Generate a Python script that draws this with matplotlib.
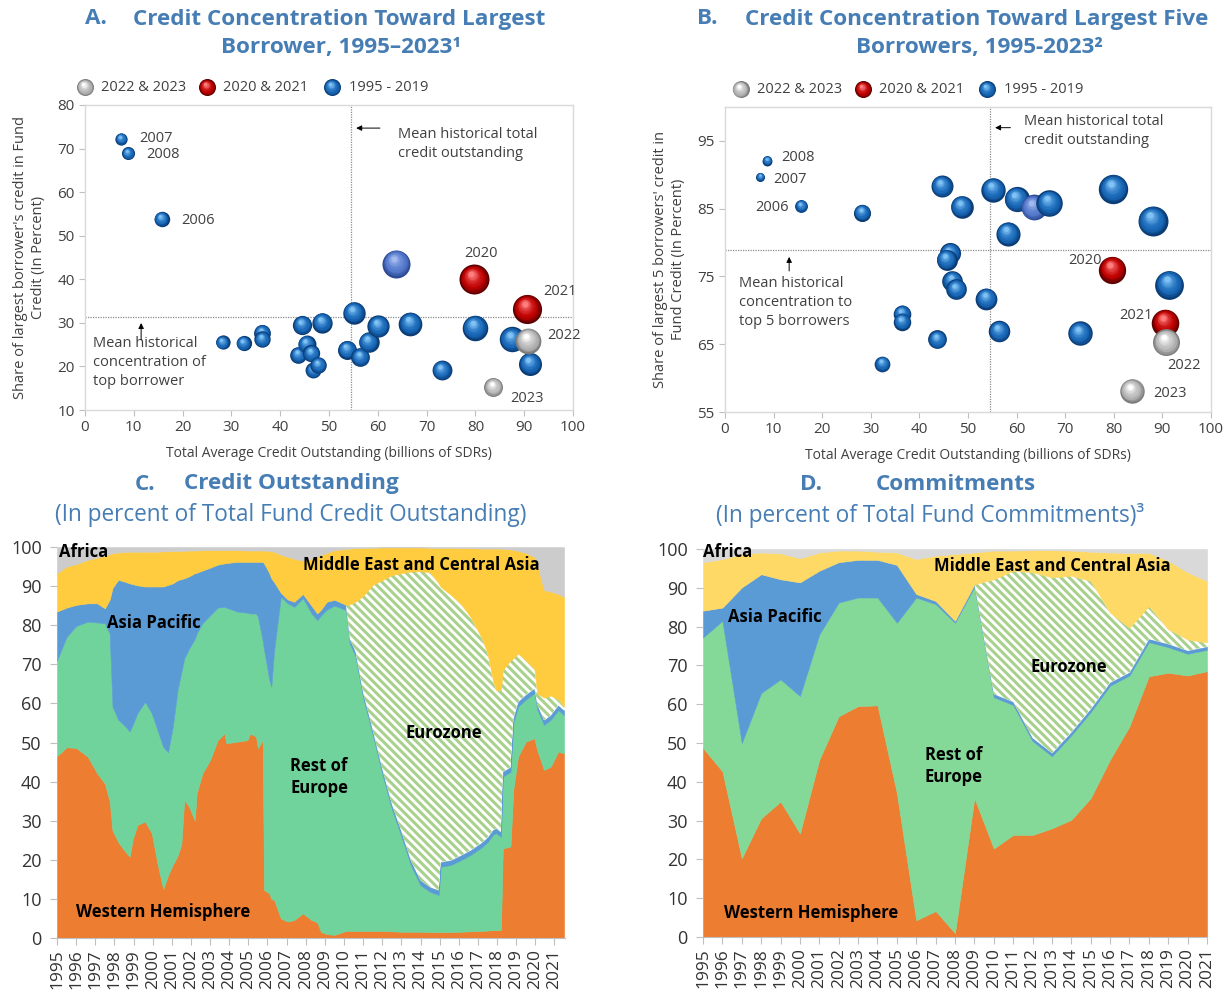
import numpy as np
import matplotlib
matplotlib.use("Agg")
import matplotlib.pyplot as plt
from matplotlib import transforms
from matplotlib.colors import to_rgb

plt.rcParams['font.family'] = ['Open Sans', 'DejaVu Sans']
plt.rcParams['hatch.linewidth'] = 2.2
plt.rcParams['hatch.color'] = '#a9d18e'

W, H = 1231, 993

# ---------------- Panel A data (x: total avg credit, y: share of largest borrower) ----------------
a_blue_x = [7.4, 8.8, 15.7, 28.2, 32.5, 36.3, 36.3, 43.7, 44.5, 45.4, 46.4, 46.8, 47.8, 48.6,
            53.7, 55.1, 56.4, 58.1, 60.1, 63.8, 66.7, 73.1, 79.9, 87.5, 91.2]
a_blue_y = [72.2, 68.9, 53.8, 25.5, 25.3, 27.7, 26.2, 22.6, 29.5, 25.1, 23.0, 19.1, 20.3, 30.0,
            23.8, 32.3, 22.1, 25.6, 29.2, 43.6, 29.8, 19.1, 28.9, 26.2, 20.6]
a_red_x = [79.7, 90.6]
a_red_y = [40.0, 33.2]
a_gray_x = [90.8, 83.7]
a_gray_y = [25.9, 15.2]
a_mean_credit = 54.6
a_mean_conc = 31.3

# ---------------- Panel B data (share of largest 5 borrowers) ----------------
b_blue_x = [8.7, 7.3, 15.7, 28.2, 44.6, 48.7, 55.2, 60.0, 63.5, 66.7, 58.2, 79.9, 88.0,
            46.3, 45.6, 46.8, 47.6, 53.8, 36.4, 36.4, 43.7, 32.4, 56.4, 73.0, 91.4]
b_blue_y = [92.1, 89.7, 85.4, 84.4, 88.3, 85.3, 87.8, 86.4, 85.2, 85.8, 81.3, 87.9, 83.2,
            78.4, 77.5, 74.3, 73.1, 71.7, 69.5, 68.3, 65.7, 62.1, 66.9, 66.6, 73.8]
b_red_x = [79.7, 90.6]
b_red_y = [76.0, 68.2]
b_gray_x = [90.8, 83.7]
b_gray_y = [65.3, 58.1]
b_mean_credit = 54.6
b_mean_conc = 78.9

# ---------------- Panel C data (cumulative boundaries, % of credit outstanding) ----------------
c_x = [1995.00, 1995.50, 1996.00, 1996.60, 1997.10, 1997.50, 1997.75, 1997.90, 1998.20, 1998.50,
       1998.80, 1998.95, 1999.20, 1999.60, 1999.95, 2000.25, 2000.55, 2000.80, 2001.05, 2001.30,
       2001.50, 2001.65, 2001.90, 2002.20, 2002.30, 2002.60, 2003.00, 2003.40, 2003.75, 2003.85,
       2004.40, 2004.95, 2005.10, 2005.40, 2005.50, 2005.75, 2005.82, 2006.10, 2006.20, 2006.35,
       2006.70, 2007.05, 2007.40, 2007.85, 2008.30, 2008.60, 2008.80, 2009.10, 2009.50, 2010.10,
       2010.30, 2010.60, 2011.00, 2011.50, 2012.00, 2012.50, 2013.00, 2013.50, 2014.00, 2014.50,
       2014.95, 2015.05, 2015.60, 2016.10, 2016.60, 2017.20, 2017.50, 2017.80, 2017.95, 2018.20,
       2018.30, 2018.70, 2018.85, 2019.10, 2019.50, 2019.95, 2020.10, 2020.45, 2020.80, 2021.20,
       2021.50]
# top of Western Hemisphere
c_top_wh = [46.5, 48.8, 48.6, 46.4, 42.1, 39.5, 35.0, 27.5, 24.5, 22.5,
            20.8, 25.1, 28.9, 29.8, 26.8, 19.1, 12.5, 16.0, 18.7, 21.0,
            24.0, 35.3, 33.6, 30.0, 37.0, 42.1, 45.5, 50.6, 52.3, 49.8,
            50.2, 50.6, 52.3, 51.5, 48.5, 50.6, 12.3, 11.4, 10.0, 9.7,
            5.0, 4.2, 4.6, 6.3, 4.6, 4.0, 1.5, 1.0, 0.8, 1.8,
            1.8, 1.8, 1.8, 1.8, 1.8, 1.7, 1.6, 1.6, 1.6, 1.5,
            1.5, 1.5, 1.5, 1.6, 1.7, 1.8, 1.9, 2.0, 2.0, 2.0,
            22.9, 23.4, 38.0, 46.4, 50.2, 51.1, 48.0, 43.0, 43.8, 47.7,
            47.2]
# top of Rest of Europe
c_top_roe = [71.0, 77.0, 79.8, 80.9, 80.7, 80.5, 77.9, 59.2, 55.8, 54.5,
             52.8, 54.5, 57.5, 60.4, 57.5, 53.2, 48.9, 47.5, 54.0, 63.4,
             68.0, 71.5, 74.0, 76.5, 77.9, 80.5, 82.5, 84.5, 84.7, 84.5,
             83.5, 83.2, 83.0, 83.0, 82.2, 76.0, 73.7, 66.0, 64.3, 73.7,
             87.3, 85.6, 84.7, 86.9, 83.0, 81.3, 82.5, 84.0, 85.0, 83.9,
             75.4, 72.0, 61.5, 52.0, 42.0, 33.0, 26.0, 18.5, 13.5, 11.8,
             11.0, 18.2, 18.7, 19.9, 21.2, 23.2, 24.5, 26.5, 26.8, 25.9,
             41.3, 42.5, 55.0, 59.2, 61.0, 62.6, 58.5, 54.5, 55.8, 58.3,
             57.0]
# top of Asia Pacific
c_top_ap = [83.5, 84.5, 85.2, 85.6, 85.6, 84.3, 86.5, 89.5, 91.6, 91.2,
            90.7, 90.5, 90.2, 89.9, 89.9, 89.9, 89.9, 90.3, 90.7, 91.5,
            91.8, 92.0, 92.5, 93.3, 93.4, 94.0, 94.7, 95.5, 95.8, 95.9,
            96.2, 96.2, 96.2, 96.2, 96.2, 96.2, 95.8, 93.3, 92.0, 91.0,
            88.3, 86.6, 86.0, 88.0, 85.0, 83.0, 84.0, 86.0, 86.5, 85.2,
            76.5, 73.2, 62.7, 53.2, 43.2, 34.2, 27.2, 19.7, 14.7, 13.0,
            12.2, 19.4, 19.9, 21.1, 22.4, 24.4, 25.7, 27.7, 28.0, 27.1,
            42.5, 43.7, 56.2, 60.4, 62.2, 63.8, 59.7, 55.7, 57.0, 59.5,
            58.2]
# top of Eurozone
c_top_ez = [83.5, 84.5, 85.2, 85.6, 85.6, 84.3, 86.5, 89.5, 91.6, 91.2,
            90.7, 90.5, 90.2, 89.9, 89.9, 89.9, 89.9, 90.3, 90.7, 91.5,
            91.8, 92.0, 92.5, 93.3, 93.4, 94.0, 94.7, 95.5, 95.8, 95.9,
            96.2, 96.2, 96.2, 96.2, 96.2, 96.2, 95.8, 93.3, 92.0, 91.0,
            88.3, 86.6, 86.0, 88.0, 85.0, 83.0, 84.0, 86.0, 86.5, 85.2,
            85.3, 86.0, 87.5, 90.3, 91.5, 92.8, 93.3, 93.7, 93.8, 93.5,
            90.7, 89.8, 87.7, 85.5, 82.2, 76.7, 72.8, 65.5, 63.4, 63.4,
            68.5, 71.0, 71.5, 72.8, 71.0, 68.8, 62.5, 61.5, 62.0, 61.0,
            59.2]
# top of Middle East and Central Asia
c_top_meca = [93.3, 95.0, 95.6, 96.7, 97.3, 97.8, 98.2, 98.4, 98.6, 98.7,
              98.8, 98.8, 98.8, 98.8, 98.8, 98.8, 98.9, 98.9, 99.0, 99.0,
              99.0, 99.0, 99.1, 99.1, 99.1, 99.2, 99.2, 99.2, 99.2, 99.2,
              99.2, 99.1, 99.1, 99.1, 99.1, 99.1, 99.1, 99.0, 98.9, 98.8,
              98.0, 97.5, 97.0, 96.5, 97.0, 97.5, 98.0, 98.5, 99.2, 99.5,
              99.6, 99.7, 99.8, 99.8, 99.9, 99.9, 99.9, 99.9, 99.9, 99.8,
              99.8, 99.8, 99.8, 99.7, 99.7, 99.6, 99.6, 99.6, 99.6, 99.6,
              99.5, 99.4, 99.3, 99.0, 98.5, 97.5, 95.5, 89.0, 88.6, 88.0,
              87.3]

# ---------------- Panel D data (cumulative boundaries, % of commitments) ----------------
d_years = list(range(1995, 2022))
d_top_wh = [48.7, 42.7, 20.3, 30.6, 34.9, 26.7, 45.7, 56.9, 59.5, 59.7, 37.1, 4.3, 6.7, 1.0,
            35.8, 22.8, 26.3, 26.3, 28.0, 30.2, 35.8, 45.7, 54.3, 67.2, 68.1, 67.4, 68.5]
d_top_roe = [77.2, 81.5, 50.0, 62.9, 66.4, 62.1, 78.0, 86.2, 87.5, 87.5, 81.0, 87.5, 85.8, 81.0,
             90.2, 61.8, 59.8, 50.5, 46.6, 52.0, 58.0, 64.8, 67.4, 76.0, 74.7, 73.0, 74.0]
d_top_ap = [84.1, 84.9, 90.1, 93.5, 92.2, 91.4, 94.4, 96.6, 97.2, 97.2, 95.9, 88.4, 86.6, 81.5,
            90.9, 62.6, 60.6, 51.3, 47.4, 52.8, 58.8, 65.6, 68.2, 76.8, 75.5, 73.8, 74.8]
d_top_ez = [84.1, 84.9, 90.1, 93.5, 92.2, 91.4, 94.4, 96.6, 97.2, 97.2, 95.9, 88.4, 86.6, 81.5,
            90.9, 92.2, 94.4, 94.0, 92.7, 93.1, 91.8, 83.6, 79.7, 85.3, 79.3, 76.7, 75.9]
d_top_meca = [96.6, 97.4, 98.7, 99.1, 98.9, 97.6, 99.1, 99.6, 99.6, 99.3, 99.1, 97.4, 98.3, 98.7,
              99.1, 99.6, 99.6, 99.7, 99.7, 99.6, 99.3, 99.1, 99.0, 99.0, 97.0, 94.0, 91.8]

region_names = ['Western Hemisphere', 'Rest of\nEurope', 'Asia Pacific', 'Eurozone',
                'Middle East and Central Asia', 'Africa']
legend_labels = ['2022 & 2023', '2020 & 2021', '1995 - 2019']

# ---------------- styling ----------------
TITLE_C = '#467db4'
TXT = '#404040'
BLUE = ('#0b3c75', '#1868b8', '#7fc2f5')
BLUE_HL = ('#2d4a94', '#5479cc', '#a3b9ef')
RED = ('#5c0000', '#c00000', '#ff7d7d')
GRAY = ('#7d7d7d', '#b8b8b8', '#ffffff')
S_MAX = (30 * 0.72) ** 2

fig = plt.figure(figsize=(W / 100, H / 100), dpi=100)


def rect(l, t, r, b):
    return [l / W, 1 - b / H, (r - l) / W, (b - t) / H]


def sphere(ax, x, y, s, pal, z, transform=None, clip=True):
    dark, base, light = (np.array(to_rgb(c)) for c in pal)
    trans = transform if transform is not None else ax.transData
    r = np.sqrt(s) / 2.0
    n = 9
    for k in range(n):
        t = k / (n - 1)
        rf = 1 - 0.8 * t
        off = 0.36 * r * t
        if t < 0.3:
            c = dark + (base - dark) * (t / 0.3)
        else:
            c = base + (light - base) * ((t - 0.3) / 0.7) ** 1.6
        tr = transforms.offset_copy(trans, fig=ax.figure, x=-0.5 * off, y=off, units='points')
        ax.scatter([x], [y], s=s * rf ** 2, color=[tuple(np.clip(c, 0, 1))], transform=tr,
                   zorder=z + k * 1e-4, linewidths=0, clip_on=clip)


def bubble_panel(ax, bx, by, rx, ry, gx, gy, hl_idx, ylim, yticks, vline, hline, ylabel,
                 leg_mx, leg_tx):
    vals = [x * y for x, y in zip(bx + rx + gx, by + ry + gy)]
    vmax = max(vals)
    z = 3.0
    for i, (x, y) in enumerate(zip(bx, by)):
        sphere(ax, x, y, S_MAX * x * y / vmax, BLUE_HL if i == hl_idx else BLUE, z)
        z += 0.01
    for x, y in zip(rx, ry):
        sphere(ax, x, y, S_MAX * x * y / vmax, RED, z)
        z += 0.01
    for x, y in zip(gx, gy):
        sphere(ax, x, y, S_MAX * x * y / vmax, GRAY, z)
        z += 0.01
    ax.axvline(vline, color='#8c8c8c', lw=0.9, ls=(0, (1, 1)), zorder=1)
    ax.axhline(hline, color='#8c8c8c', lw=0.9, ls=(0, (1, 1)), zorder=1)
    ax.set_xlim(0, 100)
    ax.set_ylim(*ylim)
    ax.set_xticks(range(0, 101, 10))
    ax.set_yticks(yticks)
    for sp in ax.spines.values():
        sp.set_color('#d9d9d9')
        sp.set_linewidth(1.0)
    ax.tick_params(colors='#bfbfbf', labelcolor=TXT, labelsize=11, length=4, width=0.8)
    ax.set_xlabel('Total Average Credit Outstanding (billions of SDRs)', fontsize=10, color=TXT)
    ax.xaxis.set_label_coords(0.5, -0.118)
    ax.set_ylabel(ylabel, fontsize=10.5, color=TXT, linespacing=1.3)
    ax.yaxis.set_label_coords(-0.08, 0.5)
    pals = [GRAY, RED, BLUE]
    for mx, tx, pal, lab in zip(leg_mx, leg_tx, pals, legend_labels):
        sphere(ax, mx, 1.058, 150, pal, 10, transform=ax.transAxes, clip=False)
        ax.text(tx, 1.058, lab, transform=ax.transAxes, fontsize=10.5, color=TXT,
                va='center', ha='left')


# ---------------- Panel A ----------------
axA = fig.add_axes(rect(85, 105, 573, 410))
bubble_panel(axA, a_blue_x, a_blue_y, a_red_x, a_red_y, a_gray_x, a_gray_y, 19,
             (10, 80), range(10, 81, 10), a_mean_credit, a_mean_conc,
             "Share of largest borrower's credit in Fund\nCredit (In Percent)",
             [0.0, 0.25, 0.506], [0.033, 0.283, 0.54])
lab_kw = dict(fontsize=10.5, color=TXT, va='center')
axA.text(11.2, 72.2, '2007', **lab_kw)
axA.text(12.6, 68.7, '2008', **lab_kw)
axA.text(19.8, 53.6, '2006', **lab_kw)
axA.text(81.1, 46.0, '2020', ha='center', **lab_kw)
axA.text(93.9, 37.2, '2021', **lab_kw)
axA.text(94.7, 27.0, '2022', **lab_kw)
axA.text(87.2, 12.7, '2023', **lab_kw)
axA.text(64.1, 75.0, 'Mean historical total\ncredit outstanding', fontsize=10.5, color=TXT,
         va='top', ha='left', linespacing=1.35, transform=axA.transData)
axA.annotate('', xy=(55.0, 74.7), xytext=(61.0, 74.7),
             arrowprops=dict(arrowstyle='-|>', color='black', lw=0.7, mutation_scale=8))
axA.text(1.6, 27.0, 'Mean historical\nconcentration of\ntop borrower', fontsize=10.5,
         color=TXT, va='top', ha='left', linespacing=1.35)
axA.annotate('', xy=(11.5, 30.6), xytext=(11.5, 25.5),
             arrowprops=dict(arrowstyle='-|>', color='black', lw=0.7, mutation_scale=8))

# ---------------- Panel B ----------------
axB = fig.add_axes(rect(725, 107, 1211, 412))
bubble_panel(axB, b_blue_x, b_blue_y, b_red_x, b_red_y, b_gray_x, b_gray_y, 8,
             (55, 100), range(55, 96, 10), b_mean_credit, b_mean_conc,
             "Share of largest 5 borrowers' credit in\nFund Credit (In Percent)",
             [0.032, 0.284, 0.539], [0.066, 0.317, 0.574])
axB.text(11.6, 92.5, '2008', **lab_kw)
axB.text(9.9, 89.3, '2007', **lab_kw)
axB.text(13.2, 85.2, '2006', ha='right', **lab_kw)
axB.text(77.5, 77.4, '2020', ha='right', **lab_kw)
axB.text(88.1, 69.2, '2021', ha='right', **lab_kw)
axB.text(91.1, 61.9, '2022', **lab_kw)
axB.text(88.1, 57.75, '2023', **lab_kw)
axB.text(61.6, 99.0, 'Mean historical total\ncredit outstanding', fontsize=10.5, color=TXT,
         va='top', ha='left', linespacing=1.35)
axB.annotate('', xy=(55.0, 96.95), xytext=(59.3, 96.95),
             arrowprops=dict(arrowstyle='-|>', color='black', lw=0.7, mutation_scale=8))
axB.text(2.8, 75.0, 'Mean historical\nconcentration to\ntop 5 borrowers', fontsize=10.5,
         color=TXT, va='top', ha='left', linespacing=1.35)
axB.annotate('', xy=(13.2, 78.3), xytext=(13.2, 75.4),
             arrowprops=dict(arrowstyle='-|>', color='black', lw=0.7, mutation_scale=8))


# ---------------- area panels ----------------
def area_panel(ax, x, tops, colors, xlim, label_pos):
    tops = [np.asarray(t, float) for t in tops] + [np.full(len(x), 100.0)]
    shares = [tops[0]] + [tops[i] - tops[i - 1] for i in range(1, len(tops))]
    polys = ax.stackplot(x, *shares, colors=colors, linewidth=0)
    for i, p in enumerate(polys):
        if i == 3:
            p.set_facecolor('white')
            p.set_edgecolor('#a9d18e')
            p.set_hatch('\\\\\\\\')
            p.set_linewidth(0)
        else:
            p.set_edgecolor(colors[i])
            p.set_linewidth(0.4)
    ax.set_xlim(*xlim)
    ax.set_ylim(0, 100)
    ax.set_yticks(range(0, 101, 10))
    ax.set_xticks(range(1995, 2022))
    ax.set_xticklabels([str(y) for y in range(1995, 2022)], rotation=90)
    for s in ['top', 'right', 'left']:
        ax.spines[s].set_visible(False)
    ax.spines['bottom'].set_color('#bfbfbf')
    ax.tick_params(axis='both', colors='#bfbfbf', labelcolor='#333333', length=5, width=0.8)
    ax.tick_params(axis='y', labelsize=13, pad=6)
    ax.tick_params(axis='x', labelsize=12.5, pad=3)
    for name, (lx, ly) in zip(region_names, label_pos):
        ax.text(lx, ly, name, fontsize=12, fontweight='bold', color='black', ha='left',
                va='center', linespacing=1.3, zorder=10)


axC = fig.add_axes(rect(57, 547, 565, 938))
area_panel(axC, c_x, [c_top_wh, c_top_roe, c_top_ap, c_top_ez, c_top_meca],
           ['#ed7d31', '#70d39b', '#5b9bd5', 'white', '#ffcc40', '#cccccc'],
           (1995, 2021.55),
           [(1996.0, 6.6), (2007.2, 41.2), (1997.6, 80.6), (2013.2, 52.4), (2007.87, 95.4),
            (1995.1, 98.8)])

axD = fig.add_axes(rect(703, 549, 1207, 937))
area_panel(axD, d_years, [d_top_wh, d_top_roe, d_top_ap, d_top_ez, d_top_meca],
           ['#ed7d31', '#84d998', '#5b9bd5', 'white', '#ffd966', '#d9d9d9'],
           (1995, 2021),
           [(1996.1, 6.2), (2006.45, 44.0), (1996.3, 82.5), (2011.9, 69.6), (2006.9, 95.6),
            (1995.0, 99.3)])

# ---------------- titles ----------------
tkw = dict(color=TITLE_C, fontsize=16.2, fontweight='bold', va='center')
fig.text(85 / W, 1 - 19 / H, 'A.', ha='left', **tkw)
fig.text(133 / W, 1 - 19 / H, 'Credit Concentration Toward Largest', ha='left', **tkw)
fig.text(341 / W, 1 - 48 / H, 'Borrower, 1995\u20132023\u00b9', ha='center', **tkw)
fig.text(697 / W, 1 - 19 / H, 'B.', ha='left', **tkw)
fig.text(745 / W, 1 - 19 / H, 'Credit Concentration Toward Largest Five', ha='left', **tkw)
fig.text(979 / W, 1 - 48 / H, 'Borrowers, 1995-2023\u00b2', ha='center', **tkw)
fig.text(135 / W, 1 - 484 / H, 'C.', ha='left', **tkw)
fig.text(184 / W, 1 - 484 / H, 'Credit Outstanding', ha='left', **tkw)
fig.text(800 / W, 1 - 484 / H, 'D.', ha='left', **tkw)
fig.text(876 / W, 1 - 484 / H, 'Commitments', ha='left', **tkw)
skw = dict(color=TITLE_C, fontsize=16.3, va='center', ha='center')
fig.text(291 / W, 1 - 515 / H, '(In percent of Total Fund Credit Outstanding)', **skw)
fig.text(930 / W, 1 - 515 / H, '(In percent of Total Fund Commitments)\u00b3', **skw)

fig.savefig('out.png', dpi=100)
